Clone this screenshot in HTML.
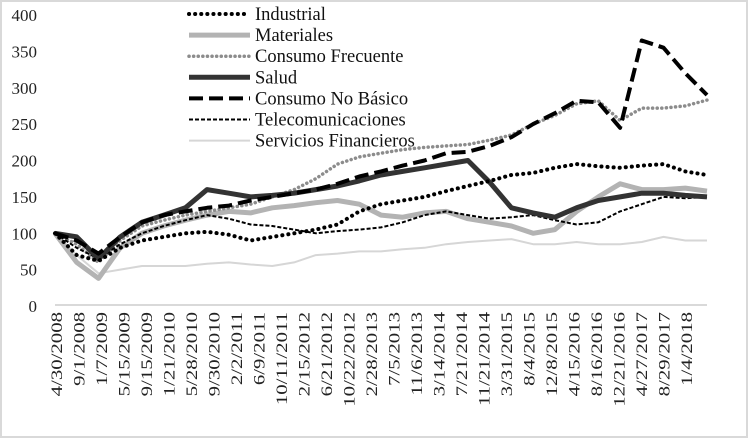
<!DOCTYPE html>
<html><head><meta charset="utf-8"><style>
html,body{margin:0;padding:0;background:#fff;}
svg{display:block;}
svg text{font-family:"Liberation Serif","Times New Roman",serif;}
</style></head><body>
<svg id="chart" width="750" height="440" viewBox="0 0 750 440" font-family="Liberation Serif, serif">
<rect x="1" y="1" width="746" height="436" fill="#fff" stroke="#d9d9d9" stroke-width="2"/>
<g id="yaxis"></g><g id="xaxis"></g><g id="series"></g><g id="legend"></g>
</svg>
<script>
const xLabels=["4/30/2008","9/1/2008","1/7/2009","5/15/2009","9/15/2009","1/21/2010","5/28/2010","9/30/2010","2/2/2011","6/9/2011","10/11/2011","2/15/2012","6/21/2012","10/22/2012","2/28/2013","7/5/2013","11/6/2013","3/14/2014","7/21/2014","11/21/2014","3/31/2015","8/4/2015","12/8/2015","4/15/2016","8/16/2016","12/21/2016","4/27/2017","8/29/2017","1/4/2018"];
const yTicks=[0,50,100,150,200,250,300,350,400];
const seriesNames=["Industrial","Materiales","Consumo Frecuente","Salud","Consumo No Básico","Telecomunicaciones","Servicios Financieros"];
const industrial=[100,70,62,80,90,95,100,102,98,90,95,100,105,112,130,140,145,150,158,165,172,180,183,190,195,192,190,193,195,185,180];
const materiales=[100,60,38,80,100,110,118,125,130,128,135,138,142,145,140,125,122,128,130,120,115,110,100,105,130,150,168,160,160,162,158];
const consumoFrecuente=[100,85,60,90,110,118,125,130,135,140,150,160,175,195,205,210,215,218,220,222,228,235,250,262,278,282,255,272,272,275,283];
const salud=[100,95,65,95,115,125,135,160,155,150,152,155,160,165,172,180,185,190,195,200,170,135,128,122,135,145,150,155,155,152,150];
const consumoNoBasico=[100,90,72,95,115,125,130,135,138,145,150,155,160,168,178,185,193,200,210,212,220,232,250,265,282,280,245,365,355,320,290];
const telecom=[100,80,65,85,100,110,118,125,120,112,110,105,100,103,105,108,115,125,130,125,120,122,125,118,112,115,130,140,150,148,150];
const financieros=[100,70,45,50,55,55,55,58,60,57,55,60,70,72,75,75,78,80,85,88,90,92,85,85,88,85,85,88,95,90,90];

const NS="http://www.w3.org/2000/svg";
const X0=55,X1=707,Y0=306,Y400=15;
const yScale=v=>Y0-(v/400)*(Y0-Y400);
const xScale=(i,n)=>X0+i*(X1-X0)/(n-1);
const labelX=i=>57+i*22.5;
function mk(tag,attrs,parent){const e=document.createElementNS(NS,tag);for(const k in attrs)e.setAttribute(k,attrs[k]);parent.appendChild(e);return e;}
const FF='Liberation Serif, serif';

const ya=document.getElementById('yaxis');
yTicks.forEach(t=>{
  const tx=mk('text',{x:37,y:yScale(t)+6,'text-anchor':'end','font-size':17,fill:'#222','font-family':FF},ya);
  tx.textContent=t;
  
  
});
const xa=document.getElementById('xaxis');
const axl=mk('line',{x1:X0,x2:X1,y1:305,y2:305,stroke:'#d9d9d9','stroke-width':2},xa);


xLabels.forEach((l,i)=>{
  const g=mk('g',{transform:`translate(${labelX(i)+5},312) rotate(-90) scale(1.3,1)`},xa);
  const tx=mk('text',{x:0,y:0,'text-anchor':'end','font-size':16,fill:'#222','font-family':FF},g);
  tx.textContent=l;
  
  
});

const styles=[
 {d:industrial,c:'#000',w:4,dash:'0.1 6',cap:'round'},
 {d:materiales,c:'#b3b3b3',w:5,dash:'',cap:'butt'},
 {d:consumoFrecuente,c:'#8c8c8c',w:3.5,dash:'0.1 4.5',cap:'round'},
 {d:salud,c:'#333',w:5,dash:'',cap:'butt'},
 {d:consumoNoBasico,c:'#000',w:4,dash:'14 6',cap:'butt'},
 {d:telecom,c:'#000',w:2,dash:'4 2',cap:'butt'},
 {d:financieros,c:'#d6d6d6',w:2,dash:'',cap:'butt'}
];
const order=[6,1,2,5,3,0,4];
const sg=document.getElementById('series');
order.forEach(k=>{
  const s=styles[k];
  const pts=s.d.map((v,i)=>xScale(i,s.d.length).toFixed(1)+','+yScale(v).toFixed(1)).join(' ');
  const p=mk('polyline',{points:pts,fill:'none',stroke:s.c,'stroke-width':s.w,'stroke-dasharray':s.dash,'stroke-linecap':s.cap,'stroke-linejoin':'round'},sg);
  
  
});

const lg=document.getElementById('legend');
seriesNames.forEach((n,i)=>{
  const s=styles[i];const y=14+i*21.1;
  const ln=mk('line',{x1:189,x2:250,y1:y,y2:y,stroke:s.c,'stroke-width':s.w,'stroke-dasharray':s.dash,'stroke-linecap':s.cap},lg);
  
  
  const tx=mk('text',{x:255,y:y+6,'font-size':18.5,fill:'#111','font-family':FF},lg);
  tx.textContent=n;
  
  
});
</script>
</body></html>
